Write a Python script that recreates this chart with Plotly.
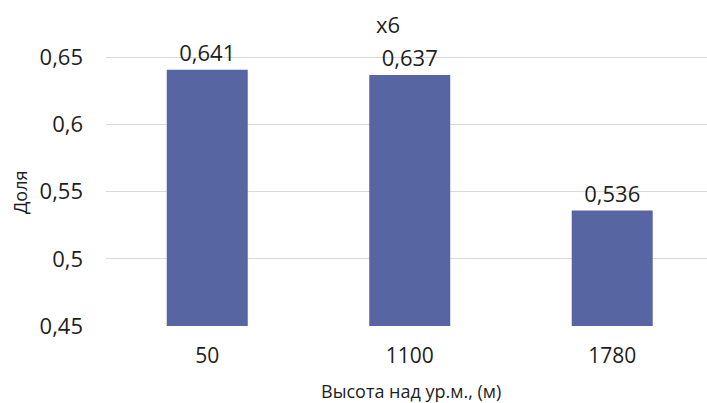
import plotly.graph_objects as go

# Altitude categories (m) and the share values for x6
altitudes = ["50", "1100", "1780"]
shares = [0.641, 0.637, 0.536]
value_labels = ["0,641", "0,637", "0,536"]
y_tickvals = [0.45, 0.5, 0.55, 0.6, 0.65]
y_ticktext = ["0,45", "0,5", "0,55", "0,6", "0,65"]

BAR_COLOR = "#5766a2"
TEXT_COLOR = "#1e1e1e"
FONT = "Open Sans"

# plot area in pixels
W, H = 707, 403
L, R, T, B = 106, 0, 40, 77
PLOT_W = W - L - R
PLOT_H = H - T - B

fig = go.Figure(
    go.Bar(
        x=altitudes,
        y=shares,
        text=value_labels,
        textposition="outside",
        textfont=dict(family=FONT, size=22, color=TEXT_COLOR),
        marker=dict(color=BAR_COLOR, line=dict(width=0)),
        cliponaxis=False,
        hoverinfo="skip",
    )
)

fig.update_layout(
    width=W,
    height=H,
    margin=dict(l=L, r=R, t=T, b=B),
    paper_bgcolor="white",
    plot_bgcolor="white",
    bargap=0.6,
    showlegend=False,
    font=dict(family=FONT, color=TEXT_COLOR),
    title=dict(
        text="x6",
        x=388 / W,
        xref="container",
        xanchor="center",
        y=1 - 25 / H,
        yref="container",
        yanchor="middle",
        font=dict(family=FONT, size=22, color=TEXT_COLOR),
    ),
    xaxis=dict(
        type="category",
        range=[-0.5, 2.468],
        showgrid=False,
        showline=False,
        zeroline=False,
        ticks="",
        ticklabelstandoff=15,
        tickfont=dict(family=FONT, size=21, color=TEXT_COLOR),
    ),
    yaxis=dict(
        range=[0.45, 0.6631],
        tickvals=y_tickvals,
        ticktext=y_ticktext,
        showgrid=True,
        gridcolor="#d9d9d9",
        gridwidth=1,
        showline=False,
        zeroline=False,
        ticks="",
        ticklabelstandoff=22,
        tickfont=dict(family=FONT, size=22, color=TEXT_COLOR),
    ),
    annotations=[
        dict(
            text="Высота над ур.м., (м)",
            x=(411 - L) / PLOT_W,
            y=-(391 - (T + PLOT_H)) / PLOT_H,
            xref="paper",
            yref="paper",
            xanchor="center",
            yanchor="middle",
            showarrow=False,
            font=dict(family=FONT, size=18, color=TEXT_COLOR),
        ),
        dict(
            text="Доля",
            textangle=-90,
            x=(20 - L) / PLOT_W,
            y=((T + PLOT_H) - 193) / PLOT_H,
            xref="paper",
            yref="paper",
            xanchor="center",
            yanchor="middle",
            showarrow=False,
            font=dict(family=FONT, size=18, color=TEXT_COLOR),
        ),
    ],
)

fig.write_html("out.html")
